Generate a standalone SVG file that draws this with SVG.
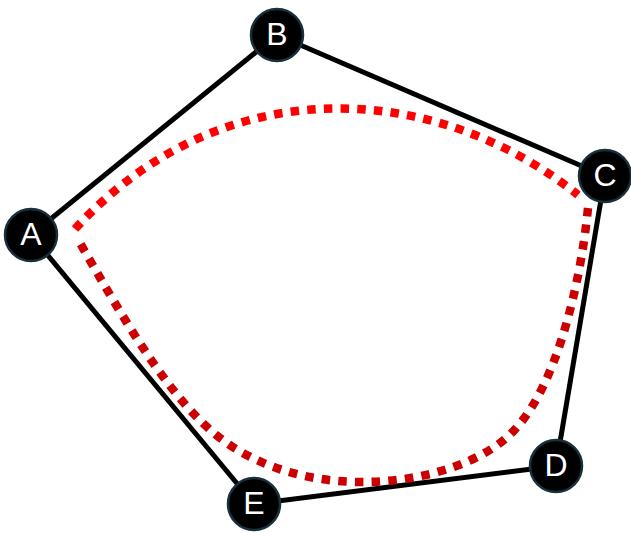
<svg xmlns="http://www.w3.org/2000/svg" width="631" height="533" viewBox="0 0 631 533">
<style>
.edge{stroke:#000;stroke-width:5;fill:none}
.dot{fill:none;stroke-width:8.5;stroke-dasharray:8.5 8.2}
.node circle{fill:#000;stroke:#17303c;stroke-width:2.5}
.node text{fill:#fff;font-family:"Liberation Sans",Arial,sans-serif;font-size:32px;text-anchor:middle;dominant-baseline:central}
</style>
<rect width="631" height="533" fill="#fff"/>
<g id="connectors">
<line class="edge" x1="31" y1="235" x2="277" y2="35"/>
<line class="edge" x1="277" y1="35" x2="605" y2="176"/>
<line class="edge" x1="605" y1="176" x2="556" y2="466"/>
<line class="edge" x1="556" y1="466" x2="254" y2="504"/>
<line class="edge" x1="254" y1="504" x2="31" y2="235"/>
<path class="dot" stroke="#ff0000" d="M75,229 C220,69.5 433,79 578,195"/>
<path class="dot" stroke="#cc0000" d="M588,208 C580,290 555,385 517,427 C488,462 423,482 363,482 C320,482 276,473 236,449 C176,413 125,321 80,243"/>
</g>
<g id="node-A" class="node"><circle cx="31" cy="235" r="26"/><text x="31" y="234">A</text></g>
<g id="node-B" class="node"><circle cx="277" cy="35" r="26"/><text x="277" y="34">B</text></g>
<g id="node-C" class="node"><circle cx="605" cy="176" r="26"/><text x="605" y="175">C</text></g>
<g id="node-D" class="node"><circle cx="556" cy="466" r="26"/><text x="556" y="465">D</text></g>
<g id="node-E" class="node"><circle cx="254" cy="504" r="26"/><text x="254" y="503">E</text></g>
</svg>
